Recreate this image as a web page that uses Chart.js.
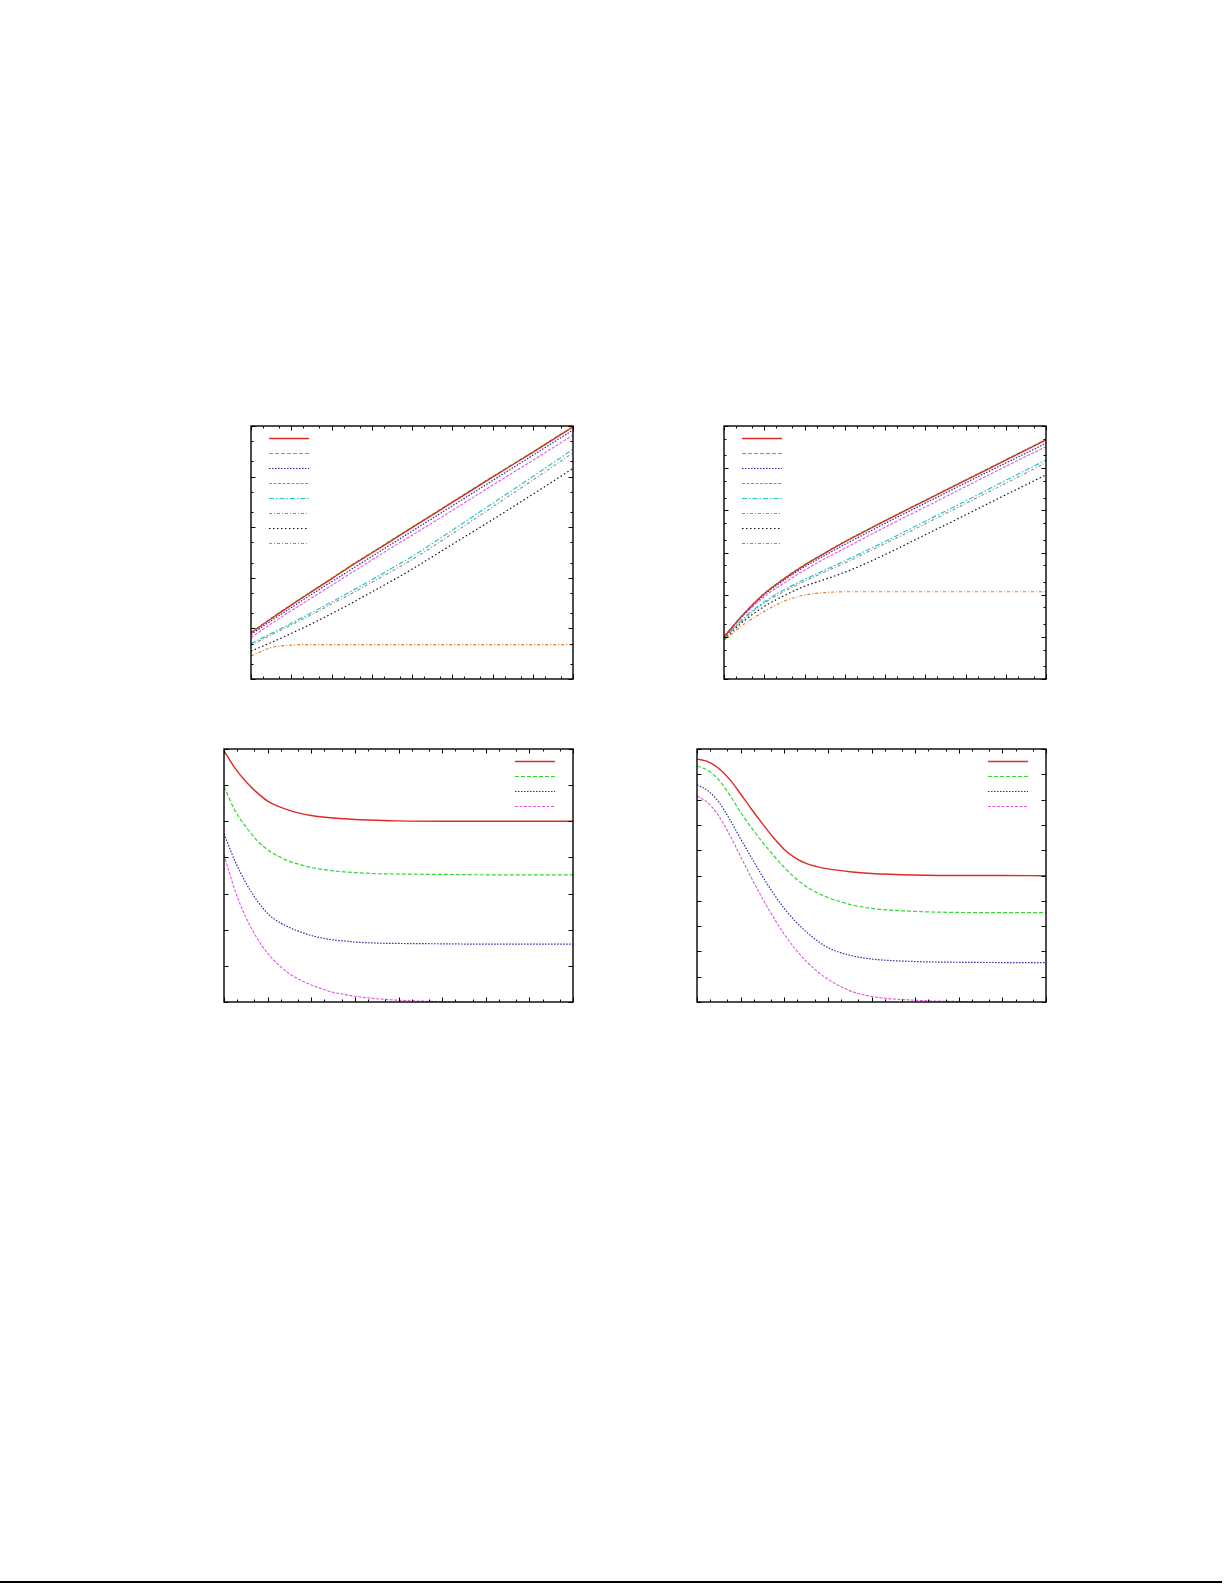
<!DOCTYPE html>
<html>
<head>
<meta charset="utf-8">
<script src="https://cdn.jsdelivr.net/npm/chart.js@4"></script>
<style>
  body { margin: 0; background: #fff; width: 1225px; height: 1585px; position: relative; overflow: hidden; }
  canvas { position: absolute; }
  .rule { position: absolute; left: 0; top: 1581px; width: 1222px; height: 2px; background: #000; }
</style>
</head>
<body>
<canvas id="c1" width="346" height="277" style="left:239px;top:414px"></canvas>
<canvas id="c2" width="346" height="277" style="left:712px;top:414px"></canvas>
<canvas id="c3" width="373" height="277" style="left:212px;top:737px"></canvas>
<canvas id="c4" width="373" height="277" style="left:685px;top:737px"></canvas>
<div class="rule"></div>
<script>
// x positions (log axis, 8 decades)
const xTop = [1, 3.16, 10, 31.6, 100, 316, 1000, 3160, 1e4, 1e5, 1e6, 1e7, 1e8];
const xBottom = [1, 1.78, 3.16, 5.62, 10, 17.8, 31.6, 56.2, 100, 178, 316, 562, 1000, 3160, 1e4, 1e5, 1e6, 1e7, 1e8];

// ticks
const xMajor = [1, 10, 100, 1e3, 1e4, 1e5, 1e6, 1e7, 1e8];
const xMinor = [2, 5, 20, 50, 200, 500, 2e3, 5e3, 2e4, 5e4, 2e5, 5e5, 2e6, 5e6, 2e7, 5e7];
const y1Major = [1, 10, 100, 1e3, 1e4, 1e5];
const y1Minor = [2, 5, 20, 50, 200, 500, 2e3, 5e3, 2e4, 5e4];
const y2Major = [1, 10, 100, 1e3, 1e4, 1e5, 1e6];
const y2Minor = [2, 5, 20, 50, 200, 500, 2e3, 5e3, 2e4, 5e4, 2e5, 5e5];
const y3Major = [0, 1, 2, 3, 4, 5, 6, 7];
const y4Major = [0, 1, 2, 3, 4, 5, 6, 7, 8, 9, 10];

// panel 1 (top left)
const p1Red     = [8.13, 15.5, 28.8, 52.5, 95.5, 174, 309, 550, 977, 3090, 9770, 30200, 95500];
const p1Green   = [8.32, 15.8, 29.5, 53.7, 97.7, 178, 316, 562, 1000, 3160, 10000, 30900, 97700];
const p1Blue    = [7.59, 14.1, 25.7, 46.8, 83.2, 148, 263, 468, 832, 2630, 8320, 26300, 83200];
const p1Magenta = [6.61, 12.3, 22.4, 39.8, 70.8, 126, 224, 398, 692, 2140, 6760, 20900, 66100];
const p1Cyan    = [5.01, 7.94, 12.6, 20.4, 33.1, 55.0, 91.2, 155, 263, 871, 2950, 10000, 34700];
const p1Gray    = [4.68, 7.41, 11.7, 18.6, 30.2, 49.0, 81.3, 135, 229, 741, 2510, 8510, 29500];
const p1Black   = [3.55, 5.25, 7.94, 12.3, 19.5, 31.6, 52.5, 87.1, 148, 457, 1410, 4470, 14500];
const p1Orange  = [2.85, 4.17, 4.68, 4.79, 4.79, 4.79, 4.79, 4.79, 4.79, 4.79, 4.79, 4.79, 4.79];

// panel 2 (top right)
const p2Red     = [10, 35.5, 105, 240, 501, 955, 1780, 3160, 5620, 17000, 51300, 155000, 468000];
const p2Green   = [10.2, 36.3, 107, 245, 513, 977, 1820, 3240, 5750, 17400, 52500, 158000, 479000];
const p2Blue    = [10, 34.7, 100, 224, 457, 851, 1550, 2750, 4900, 14800, 44700, 132000, 389000];
const p2Magenta = [10, 33.1, 89.1, 191, 380, 708, 1260, 2240, 3980, 12000, 36300, 110000, 324000];
const p2Cyan    = [9.33, 28.2, 67.6, 132, 229, 380, 631, 1070, 1820, 5500, 16600, 51300, 155000];
const p2Gray    = [9.12, 26.9, 63.1, 120, 209, 347, 562, 955, 1620, 4790, 14500, 43700, 135000];
const p2Black   = [8.91, 24.0, 52.5, 95.5, 158, 229, 339, 537, 891, 2630, 7760, 23400, 69200];
const p2Orange  = [8.32, 20.0, 39.8, 70.8, 97.7, 112, 117, 117, 117, 117, 117, 117, 117];

// panel 3 (bottom left)
const p3Red     = [6.95, 6.47, 6.10, 5.80, 5.56, 5.41, 5.30, 5.22, 5.16, 5.12, 5.09, 5.07, 5.05, 5.03, 5.01, 5.0, 5.0, 5.0, 5.0];
const p3Green   = [5.96, 5.30, 4.85, 4.48, 4.21, 4.03, 3.89, 3.80, 3.72, 3.67, 3.63, 3.60, 3.58, 3.55, 3.54, 3.53, 3.52, 3.52, 3.52];
const p3Blue    = [4.65, 3.90, 3.30, 2.82, 2.45, 2.22, 2.06, 1.94, 1.84, 1.77, 1.72, 1.69, 1.66, 1.63, 1.62, 1.61, 1.60, 1.60, 1.60];
const p3Magenta = [4.07, 3.09, 2.35, 1.78, 1.35, 1.03, 0.78, 0.61, 0.47, 0.36, 0.27, 0.21, 0.16, 0.09, 0.05, 0.01, -0.01, -0.02, -0.02];

// panel 4 (bottom right)
const p4Red     = [9.6, 9.5, 9.23, 8.8, 8.22, 7.62, 7.05, 6.5, 6.03, 5.70, 5.48, 5.35, 5.26, 5.15, 5.08, 5.02, 5.0, 5.0, 4.99];
const p4Green   = [9.33, 9.15, 8.78, 8.18, 7.50, 6.88, 6.32, 5.80, 5.32, 4.90, 4.57, 4.32, 4.13, 3.86, 3.70, 3.58, 3.54, 3.53, 3.53];
const p4Blue    = [8.58, 8.35, 7.9, 7.22, 6.45, 5.7, 4.97, 4.3, 3.7, 3.2, 2.78, 2.43, 2.15, 1.85, 1.7, 1.6, 1.57, 1.56, 1.56];
const p4Magenta = [8.14, 7.88, 7.35, 6.6, 5.75, 4.9, 4.1, 3.35, 2.68, 2.1, 1.62, 1.22, 0.9, 0.45, 0.22, 0.07, 0.02, 0.0, -0.02];

const lineStyles = [
  { color: "#dd2a24", dash: [], width: 1.4 },
  { color: "#33d633", dash: [4, 2], width: 1.2 },
  { color: "#2a2aa8", dash: [1.5, 1.5], width: 1.2 },
  { color: "#e454e4", dash: [3, 1.5], width: 1.1 },
  { color: "#20c8c8", dash: [5, 2, 1.5, 2], width: 1.2 },
  { color: "#8c8c8c", dash: [3, 2, 1, 2], width: 1.1 },
  { color: "#111111", dash: [1.5, 2.5], width: 1.2 },
  { color: "#e8781e", dash: [3, 2, 1, 2], width: 1.1 },
];

function buildSets(xs, series) {
  return series.map((ys, i) => ({
    data: ys.map((y, j) => ({ x: xs[j], y })),
    borderColor: lineStyles[i].color,
    borderDash: lineStyles[i].dash,
    borderWidth: lineStyles[i].width,
    pointRadius: 0,
    fill: false,
    cubicInterpolationMode: "monotone",
  }));
}

// gnuplot-like frame with inward ticks on all four sides
const gnuFrame = {
  id: "gnuFrame",
  afterDatasetsDraw(chart, args, opts) {
    const { ctx, chartArea: a, scales } = chart;
    ctx.save();
    ctx.setLineDash([]);
    ctx.strokeStyle = "#000";
    ctx.lineWidth = 1;
    ctx.beginPath();
    const xTick = (v, len) => {
      const px = Math.round(scales.x.getPixelForValue(v)) + 0.5;
      ctx.moveTo(px, a.bottom); ctx.lineTo(px, a.bottom - len);
      ctx.moveTo(px, a.top); ctx.lineTo(px, a.top + len);
    };
    const yTick = (v, len) => {
      const py = Math.round(scales.y.getPixelForValue(v)) + 0.5;
      ctx.moveTo(a.left, py); ctx.lineTo(a.left + len, py);
      ctx.moveTo(a.right, py); ctx.lineTo(a.right - len, py);
    };
    opts.xMajor.forEach((v) => xTick(v, 4.5));
    opts.xMinor.forEach((v) => xTick(v, 2.5));
    opts.yMajor.forEach((v) => yTick(v, 4.5));
    (opts.yMinor || []).forEach((v) => yTick(v, 2.5));
    ctx.stroke();
    ctx.lineWidth = 1.4;
    ctx.strokeRect(a.left, a.top, a.right - a.left, a.bottom - a.top);
    ctx.restore();
  },
};

// key samples only (the original has no key text)
const keySamples = {
  id: "keySamples",
  afterDatasetsDraw(chart, args, opts) {
    const { ctx, chartArea: a } = chart;
    ctx.save();
    chart.data.datasets.forEach((ds, i) => {
      const y = Math.round(a.top + opts.y0 + i * opts.dy) + 0.5;
      ctx.beginPath();
      ctx.setLineDash(ds.borderDash || []);
      ctx.strokeStyle = ds.borderColor;
      ctx.lineWidth = ds.borderWidth;
      ctx.moveTo(a.left + opts.x0, y);
      ctx.lineTo(a.left + opts.x1, y);
      ctx.stroke();
    });
    ctx.restore();
  },
};

function makeChart(id, xs, series, yType, yMin, yMax, ticks, key) {
  return new Chart(document.getElementById(id), {
    type: "line",
    data: { datasets: buildSets(xs, series) },
    options: {
      responsive: false,
      animation: false,
      layout: { padding: 12 },
      plugins: {
        legend: { display: false },
        tooltip: { enabled: false },
        gnuFrame: ticks,
        keySamples: key,
      },
      scales: {
        x: { type: "logarithmic", min: 1, max: 1e8, display: false },
        y: { type: yType, min: yMin, max: yMax, display: false },
      },
    },
    plugins: [gnuFrame, keySamples],
  });
}

makeChart("c1", xTop,
  [p1Red, p1Green, p1Blue, p1Magenta, p1Cyan, p1Gray, p1Black, p1Orange],
  "logarithmic", 1, 1e5,
  { xMajor, xMinor, yMajor: y1Major, yMinor: y1Minor },
  { x0: 18, x1: 58, y0: 12.3, dy: 15 });

makeChart("c2", xTop,
  [p2Red, p2Green, p2Blue, p2Magenta, p2Cyan, p2Gray, p2Black, p2Orange],
  "logarithmic", 1, 1e6,
  { xMajor, xMinor, yMajor: y2Major, yMinor: y2Minor },
  { x0: 18, x1: 58, y0: 12.3, dy: 15 });

makeChart("c3", xBottom,
  [p3Red, p3Green, p3Blue, p3Magenta],
  "linear", 0, 7,
  { xMajor, xMinor, yMajor: y3Major },
  { x0: 291, x1: 331, y0: 11.7, dy: 15 });

makeChart("c4", xBottom,
  [p4Red, p4Green, p4Blue, p4Magenta],
  "linear", 0, 10,
  { xMajor, xMinor, yMajor: y4Major },
  { x0: 291, x1: 331, y0: 11.7, dy: 15 });
</script>
</body>
</html>
